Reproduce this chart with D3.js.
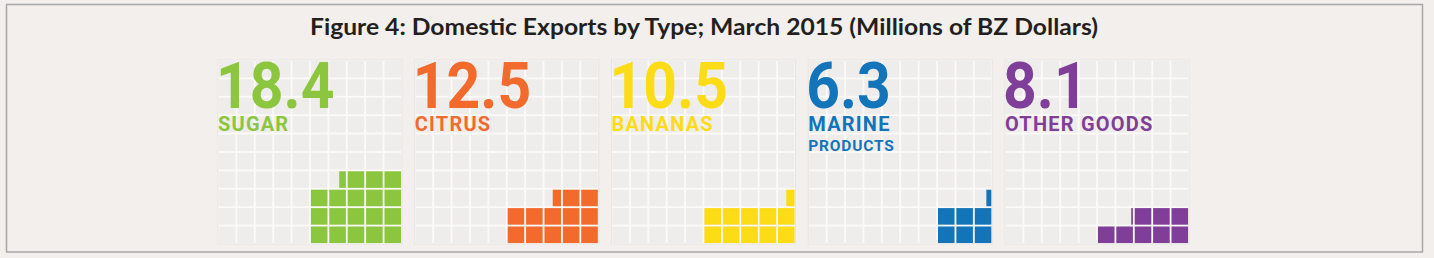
<!DOCTYPE html>
<html>
<head>
<meta charset="utf-8">
<script src="https://cdn.jsdelivr.net/npm/d3@7"></script>
<style>
  html, body { margin: 0; padding: 0; background: #f2efec; }
  svg { display: block; }
</style>
</head>
<body>
<div class="gv-chart"></div>
<script>
// export categories, values in millions of BZ dollars
var categories = ["SUGAR", "CITRUS", "BANANAS", "MARINE PRODUCTS", "OTHER GOODS"];
var values = [18.4, 12.5, 10.5, 6.3, 8.1];
var valueLabels = ["18.4", "12.5", "10.5", "6.3", "8.1"];
var labelLines = [["SUGAR"], ["CITRUS"], ["BANANAS"], ["MARINE", "PRODUCTS"], ["OTHER GOODS"]];
var colors = ["#8cc63f", "#f26a2c", "#fcdb17", "#1474b9", "#7f3f98"];
var rowWidth = [5, 5, 5, 3, 5]; // how many units are stacked per row in each panel

var width = 1434, height = 258;
var gridN = 10;

var svg = d3.select(".gv-chart").append("svg")
    .attr("width", width)
    .attr("height", height);

// frame
svg.append("rect")
    .attr("x", 6.5).attr("y", 4.5)
    .attr("width", 1416).attr("height", 247.5)
    .attr("fill", "#f2efec")
    .attr("stroke", "#a8a8a8")
    .attr("stroke-width", 1.5);

svg.append("text")
    .attr("x", 704).attr("y", 35)
    .attr("text-anchor", "middle")
    .attr("textLength", 788)
    .attr("lengthAdjust", "spacingAndGlyphs")
    .style("font", "bold 23px Lato, 'Open Sans', sans-serif")
    .attr("fill", "#231f20")
    .text("Figure 4: Domestic Exports by Type; March 2015 (Millions of BZ Dollars)");

var panelX = d3.scaleBand()
    .domain(categories)
    .range([218, 1189])
    .paddingInner(0.065);

var panelSize = panelX.bandwidth();

var cell = d3.scaleBand()
    .domain(d3.range(gridN))
    .range([0, panelSize])
    .paddingInner(0.1)
    .paddingOuter(0.05);

var panels = svg.selectAll(".panel")
    .data(categories.map(function(c, i) {
      return { name: c, value: values[i], label: valueLabels[i], lines: labelLines[i], color: colors[i], cols: rowWidth[i] };
    }))
    .enter().append("g")
      .attr("class", "panel")
      .attr("transform", function(d) { return "translate(" + panelX(d.name) + ",60)"; });

// empty grid
panels.append("rect")
    .attr("width", panelSize).attr("height", panelSize)
    .attr("fill", "#fbfaf9")
    .attr("stroke", "#e7e5e3")
    .attr("stroke-width", 1);

panels.append("g").selectAll("rect")
    .data(d3.cross(d3.range(gridN), d3.range(gridN)))
    .enter().append("rect")
      .attr("x", function(d) { return cell(d[0]); })
      .attr("y", function(d) { return cell(d[1]); })
      .attr("width", cell.bandwidth())
      .attr("height", cell.bandwidth())
      .attr("fill", "#efedeb");

// filled units, from bottom-right, right to left
panels.append("g").selectAll("rect")
    .data(function(d) {
      var n = Math.floor(d.value + 1e-9), frac = d.value - n, out = [];
      for (var i = 0; i < n; i++) out.push({ row: Math.floor(i / d.cols), col: i % d.cols, f: 1, color: d.color });
      if (frac > 0.01) out.push({ row: Math.floor(n / d.cols), col: n % d.cols, f: frac, color: d.color });
      return out;
    })
    .enter().append("rect")
      .attr("x", function(d) {
        var c = gridN - 1 - d.col;
        return cell(c) + cell.bandwidth() * (1 - d.f);
      })
      .attr("y", function(d) { return cell(gridN - 1 - d.row); })
      .attr("width", function(d) { return cell.bandwidth() * d.f; })
      .attr("height", cell.bandwidth())
      .attr("fill", function(d) { return d.color; });

// big values (slightly condensed to look like the original DIN face)
panels.append("text")
    .attr("transform", "translate(-2,48) scale(0.92,1)")
    .style("font", "bold 64px Roboto, sans-serif")
    .attr("fill", function(d) { return d.color; })
    .text(function(d) { return d.label; });

// category labels
panels.each(function(d) {
  var g = d3.select(this);
  d.lines.forEach(function(line, k) {
    g.append("text")
      .attr("x", 0)
      .attr("y", k == 0 ? 71 : 91)
      .style("font", "bold " + (k == 0 ? 20 : 15.5) + "px Roboto, sans-serif")
      .style("letter-spacing", k == 0 ? "1.2px" : "0.8px")
      .attr("fill", d.color)
      .text(line);
  });
});
</script>
</body>
</html>
